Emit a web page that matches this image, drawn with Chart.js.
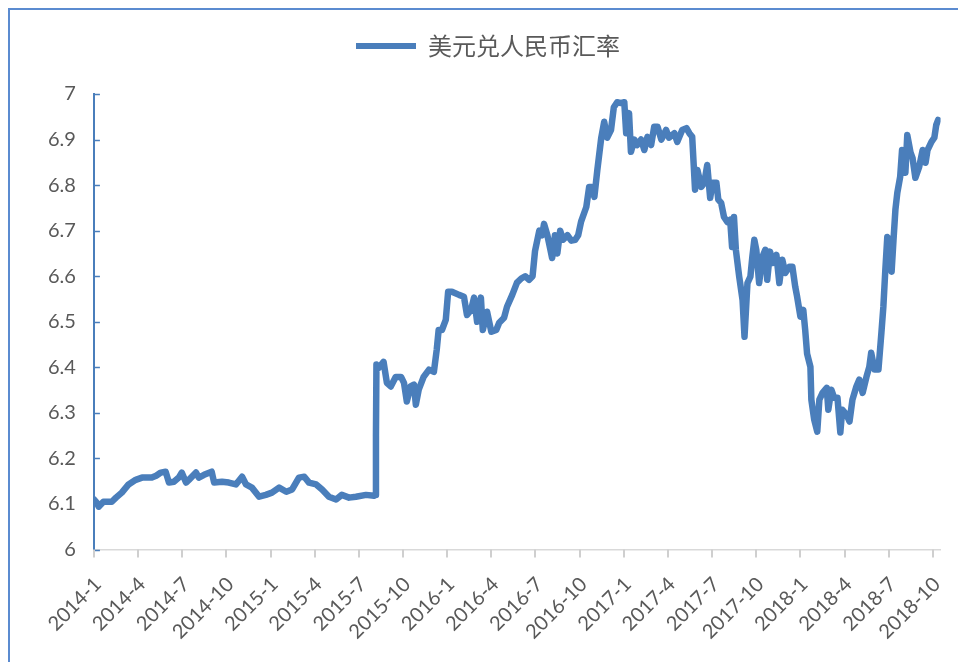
<!DOCTYPE html>
<html>
<head>
<meta charset="utf-8">
<script src="https://cdn.jsdelivr.net/npm/chart.js@4/dist/chart.umd.min.js"></script>
<style>
  html, body { margin: 0; padding: 0; background: #fff; overflow: hidden; }
  #wrap { position: relative; width: 958px; height: 662px; }
  #frame { position: absolute; left: 8px; top: 8px; width: 1000px; height: 1000px; border: 2px solid #5b8bd0; box-sizing: border-box; pointer-events: none; }
  canvas { position: absolute; left: 0; top: 0; }
</style>
</head>
<body>
<div id="wrap">
  <canvas id="c" width="958" height="662"></canvas>
  <div id="frame"></div>
</div>
<script>
const seriesName = '美元兑人民币汇率';
const tickLabels = ['2014-1','2014-4','2014-7','2014-10','2015-1','2015-4','2015-7','2015-10','2016-1','2016-4','2016-7','2016-10','2017-1','2017-4','2017-7','2017-10','2018-1','2018-4','2018-7','2018-10'];
const dates = [
'2014-01-01','2014-01-07','2014-01-11','2014-01-21','2014-02-07','2014-02-15','2014-02-26','2014-03-12','2014-03-27','2014-04-09',
'2014-04-29','2014-05-08','2014-05-18','2014-05-28','2014-06-04','2014-06-14','2014-06-24','2014-06-30','2014-07-09','2014-07-15',
'2014-07-30','2014-08-05','2014-08-16','2014-09-01','2014-09-06','2014-09-22','2014-10-06','2014-10-21','2014-11-03','2014-11-11',
'2014-11-23','2014-12-08','2014-12-22','2015-01-04','2015-01-19','2015-02-03','2015-02-14','2015-02-27','2015-03-10','2015-03-20',
'2015-04-04','2015-04-16','2015-04-30','2015-05-15','2015-05-27','2015-06-11','2015-06-25','2015-07-16','2015-08-02','2015-08-05',
'2015-08-06','2015-08-07','2015-08-12','2015-08-22','2015-08-29','2015-09-06','2015-09-16','2015-09-27','2015-10-03','2015-10-09',
'2015-10-17','2015-10-24','2015-10-28','2015-11-03','2015-11-13','2015-11-24','2015-12-04','2015-12-10','2015-12-14','2015-12-21',
'2015-12-29','2016-01-03','2016-01-11','2016-01-26','2016-02-05','2016-02-11','2016-02-19','2016-02-25','2016-03-02','2016-03-10',
'2016-03-14','2016-03-23','2016-04-01','2016-04-11','2016-04-17','2016-04-27','2016-05-03','2016-05-14','2016-05-24','2016-06-02',
'2016-06-10','2016-06-18','2016-06-25','2016-06-30','2016-07-09','2016-07-15','2016-07-19','2016-07-26','2016-08-01','2016-08-05',
'2016-08-11','2016-08-16','2016-08-22','2016-08-28','2016-09-06','2016-09-14','2016-09-22','2016-09-28','2016-10-04','2016-10-15',
'2016-10-21','2016-10-27','2016-11-01','2016-11-07','2016-11-15','2016-11-21','2016-11-27','2016-12-05','2016-12-11','2016-12-18',
'2016-12-26','2017-01-02','2017-01-06','2017-01-12','2017-01-16','2017-01-23','2017-01-29','2017-02-06','2017-02-12','2017-02-18',
'2017-02-25','2017-03-03','2017-03-10','2017-03-18','2017-03-28','2017-04-03','2017-04-14','2017-04-20','2017-04-30','2017-05-09',
'2017-05-15','2017-05-21','2017-05-27','2017-06-01','2017-06-09','2017-06-15','2017-06-21','2017-06-27','2017-07-02','2017-07-10',
'2017-07-14','2017-07-20','2017-07-26','2017-08-02','2017-08-08','2017-08-12','2017-08-16','2017-08-20','2017-08-27','2017-09-03',
'2017-09-07','2017-09-13','2017-09-19','2017-09-23','2017-09-27','2017-10-01','2017-10-07','2017-10-14','2017-10-20','2017-10-24',
'2017-10-30','2017-11-04','2017-11-12','2017-11-18','2017-11-24','2017-11-30','2017-12-09','2017-12-15','2017-12-21','2017-12-25',
'2018-01-01','2018-01-07','2018-01-11','2018-01-15','2018-01-22','2018-01-24','2018-01-30','2018-02-05','2018-02-09','2018-02-15',
'2018-02-23','2018-02-26','2018-03-04','2018-03-10','2018-03-17','2018-03-23','2018-03-27','2018-04-05','2018-04-11','2018-04-17',
'2018-04-25','2018-05-01','2018-05-08','2018-05-16','2018-05-22','2018-05-26','2018-06-02','2018-06-10','2018-06-16','2018-06-20',
'2018-06-24','2018-06-28','2018-07-03','2018-07-07','2018-07-11','2018-07-15','2018-07-19','2018-07-25','2018-07-29','2018-08-05',
'2018-08-09','2018-08-16','2018-08-20','2018-08-26','2018-09-03','2018-09-10','2018-09-16','2018-09-20','2018-09-28','2018-10-04',
'2018-10-08','2018-10-12'
];
const rates = [
6.110,6.103,6.094,6.105,6.105,6.114,6.125,6.143,6.153,6.158,
6.158,6.162,6.169,6.171,6.147,6.149,6.158,6.169,6.147,6.153,
6.169,6.158,6.164,6.171,6.147,6.149,6.147,6.143,6.160,6.143,
6.136,6.116,6.120,6.125,6.136,6.127,6.132,6.158,6.160,6.147,
6.143,6.132,6.116,6.110,6.120,6.114,6.116,6.120,6.118,6.120,
6.250,6.406,6.399,6.412,6.366,6.358,6.379,6.379,6.366,6.325,
6.358,6.362,6.318,6.351,6.379,6.395,6.390,6.439,6.482,6.482,
6.504,6.566,6.566,6.559,6.555,6.515,6.526,6.553,6.500,6.553,
6.482,6.522,6.478,6.482,6.498,6.509,6.533,6.559,6.586,6.595,
6.600,6.592,6.600,6.655,6.700,6.690,6.715,6.690,6.660,6.640,
6.690,6.650,6.700,6.680,6.690,6.678,6.680,6.690,6.720,6.752,
6.796,6.796,6.774,6.833,6.904,6.939,6.904,6.921,6.971,6.982,
6.980,6.982,6.914,6.958,6.873,6.900,6.888,6.900,6.877,6.906,
6.888,6.928,6.928,6.900,6.921,6.904,6.914,6.895,6.921,6.925,
6.914,6.906,6.790,6.833,6.796,6.805,6.844,6.772,6.805,6.805,
6.768,6.761,6.730,6.719,6.724,6.664,6.730,6.658,6.599,6.548,
6.467,6.585,6.599,6.643,6.680,6.658,6.585,6.643,6.658,6.592,
6.654,6.629,6.647,6.585,6.636,6.607,6.621,6.621,6.577,6.555,
6.511,6.526,6.482,6.430,6.401,6.329,6.285,6.259,6.329,6.344,
6.355,6.307,6.351,6.333,6.333,6.257,6.307,6.296,6.281,6.329,
6.358,6.373,6.344,6.379,6.401,6.432,6.395,6.395,6.476,6.533,
6.614,6.686,6.680,6.610,6.680,6.746,6.783,6.818,6.877,6.827,
6.910,6.871,6.860,6.816,6.840,6.877,6.849,6.877,6.895,6.904,
6.932,6.943
];

const lineColor = '#4a7ebb';
const axisEndMonth = 57.52;

function monthPos(s) {
  const [y, m, d] = s.split('-').map(Number);
  const dim = new Date(y, m, 0).getDate();
  return (y - 2014) * 12 + (m - 1) + (d - 1) / dim;
}
const points = dates.map((d, i) => ({ x: monthPos(d), y: rates[i] }));

const legendSpacer = {
  id: 'legendSpacer',
  beforeInit(chart) {
    const orig = chart.legend.fit;
    chart.legend.fit = function () { orig.call(this); this.height += 26; };
  }
};
const axisTicks = {
  id: 'axisTicks',
  afterDraw(chart) {
    const ctx = chart.ctx, area = chart.chartArea;
    const y = chart.scales.y, x = chart.scales.x;
    ctx.save();
    ctx.lineWidth = 1.5;
    ctx.strokeStyle = lineColor;
    y.ticks.forEach(t => {
      const py = Math.round(y.getPixelForValue(t.value)) + 0.5;
      ctx.beginPath(); ctx.moveTo(area.left, py); ctx.lineTo(area.left + 6, py); ctx.stroke();
    });
    ctx.strokeStyle = '#cfcfcf';
    ctx.lineWidth = 2;
    x.ticks.forEach(t => {
      const px = Math.round(x.getPixelForValue(t.value));
      ctx.beginPath(); ctx.moveTo(px, area.bottom); ctx.lineTo(px, area.bottom + 8); ctx.stroke();
    });
    ctx.restore();
  }
};

new Chart(document.getElementById('c'), {
  type: 'line',
  data: {
    datasets: [{
      label: seriesName,
      data: points,
      borderColor: lineColor,
      backgroundColor: lineColor,
      borderWidth: 6.5,
      pointRadius: 0,
      tension: 0,
      borderJoinStyle: 'round',
      borderCapStyle: 'round'
    }]
  },
  options: {
    responsive: false,
    animation: false,
    layout: { padding: { left: 30, right: 12, top: 24, bottom: 0 } },
    plugins: {
      tooltip: { enabled: false },
      legend: {
        display: true,
        position: 'top',
        labels: {
          boxWidth: 60,
          boxHeight: 6,
          padding: 10,
          color: '#595959',
          font: { family: '"Noto Sans CJK SC", sans-serif', size: 24 },
          generateLabels(chart) {
            const items = Chart.defaults.plugins.legend.labels.generateLabels(chart);
            items.forEach(it => { it.lineWidth = 0; it.fillStyle = lineColor; });
            return items;
          }
        }
      }
    },
    scales: {
      x: {
        type: 'linear',
        min: 0,
        max: axisEndMonth,
        afterBuildTicks(scale) {
          scale.ticks = tickLabels.map((l, i) => ({ value: i * 3 }));
        },
        afterFit(scale) { scale.height += 10; },
        ticks: {
          autoSkip: false,
          minRotation: 45,
          maxRotation: 45,
          padding: 8,
          labelOffset: 4,
          color: '#595959',
          font: { family: 'Lato, sans-serif', size: 20 },
          callback: (v) => tickLabels[Math.round(v / 3)]
        },
        grid: { display: true, drawOnChartArea: false, drawTicks: true, tickLength: 15, color: 'rgba(0,0,0,0)' },
        border: { display: true, color: '#d9d9d9', width: 1.5 }
      },
      y: {
        min: 6,
        max: 7,
        ticks: {
          stepSize: 0.1,
          padding: 18,
          color: '#595959',
          font: { family: 'Lato, sans-serif', size: 20 },
          callback: (v) => String(Number(v.toFixed(1)))
        },
        grid: { display: false, drawOnChartArea: false, drawTicks: false },
        border: { display: true, color: lineColor, width: 2 }
      }
    }
  },
  plugins: [legendSpacer, axisTicks]
});
</script>
</body>
</html>
